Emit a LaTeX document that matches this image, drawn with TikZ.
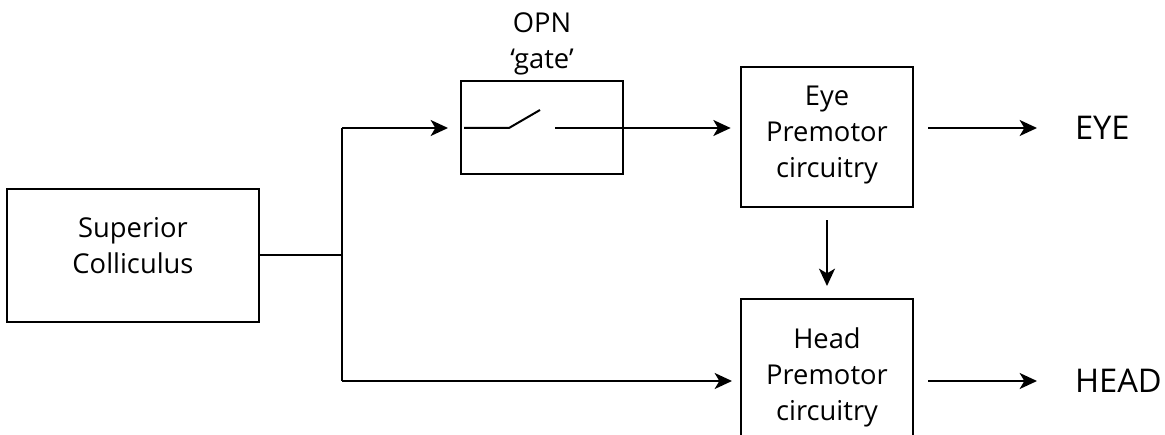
\documentclass[tikz,border=0pt]{standalone}
\usepackage{fontspec}
\setmainfont{Open Sans}
\usetikzlibrary{arrows.meta}
\begin{document}
\begin{tikzpicture}[x=0.75pt,y=-0.75pt,
  line width=1.5pt,
  box/.style={draw,line width=1.5pt,inner sep=0pt,rectangle},
  lbl/.style={inner sep=0pt,align=center,font=\fontsize{20.5}{27}\selectfont},
  outlbl/.style={inner sep=0pt,anchor=west,font=\fontsize{24.5}{30}\selectfont},
  arr/.style={-{Stealth[length=13pt,width=12pt,inset=3.5pt]}}]
\useasboundingbox (0,0) rectangle (1165,435);
\clip (0,0) rectangle (1165,435);
% boxes
\node[box,minimum width=189pt,minimum height=99.75pt] (sc) at (133,255.5) {};
\node[lbl] (sct) at (133,246) {Superior\\Colliculus};
\node[box,minimum width=121.5pt,minimum height=69.75pt] (gate) at (542,127.5) {};
\node[lbl] (opn) at (542,44) {OPN\\‘gate’};
\node[box,minimum width=129pt,minimum height=105pt] (eye) at (827,137) {};
\node[lbl] (eyet) at (827,135) {Eye\\Premotor\\circuitry};
\node[box,minimum width=129pt,minimum height=105pt] (head) at (827,369) {};
\node[lbl] (headt) at (827,377) {Head\\Premotor\\circuitry};
\node[outlbl] (eyeo) at (1074,128) {EYE};
\node[outlbl] (heado) at (1074,381) {HEAD};
% junction points
\coordinate (j) at (342,255);
\coordinate (jt) at (342,128);
\coordinate (jb) at (342,381);
\coordinate (s1) at (464,128);
\coordinate (s2) at (509,128);
\coordinate (s3) at (540,110);
\coordinate (s4) at (555,128);
\coordinate (e1) at (928,128);
\coordinate (e2) at (1037,128);
\coordinate (h1) at (928,381);
\coordinate (h2) at (1037,381);
% connectors
\draw (sc.east |- j) -- (j);
\draw (jt) -- (jb);
\draw[arr,shorten >=9pt] (jt) -- (gate.west |- jt);
\draw (s1) -- (s2) -- (s3);
\draw[arr,shorten >=7pt] (s4) -- (eye.west |- s4);
\draw[arr,shorten >=6pt] (jb) -- (head.west |- jb);
\draw[arr,shorten <=9pt,shorten >=9pt] (eye.south) -- (eye.south |- head.north);
\draw[arr] (e1) -- (e2);
\draw[arr] (h1) -- (h2);
\end{tikzpicture}
\end{document}
